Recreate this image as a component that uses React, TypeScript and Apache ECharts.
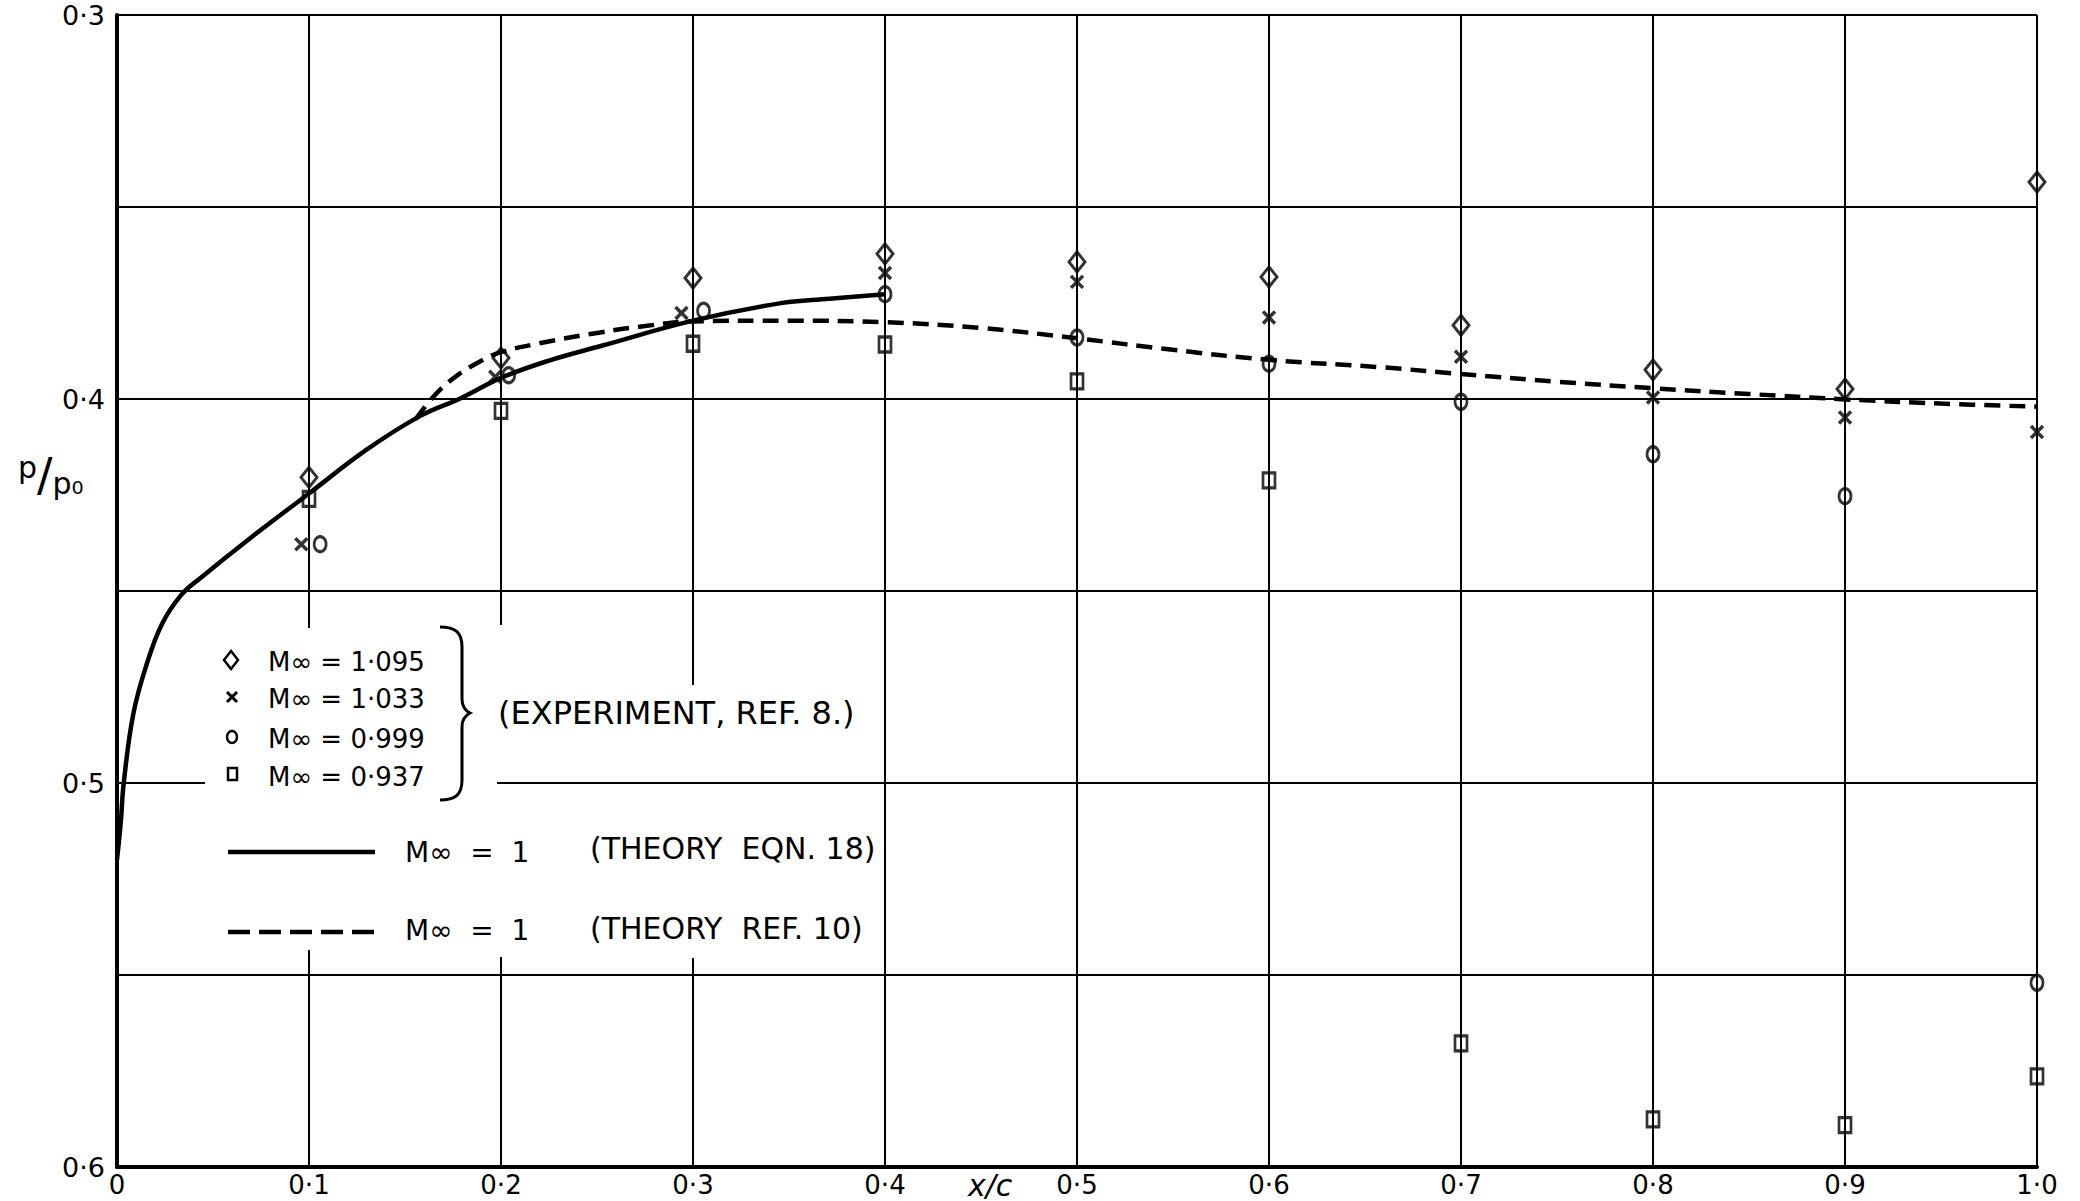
import React, { useEffect, useRef } from "react";
import * as echarts from "echarts";

// ---- Data (x/c, p/p0) ----
const diamondM1095: [number, number][] = [
  [0.1, 0.4204], [0.2, 0.3893], [0.3, 0.3685], [0.4, 0.3622], [0.5, 0.3643],
  [0.6, 0.3682], [0.7, 0.3808], [0.8, 0.3924], [0.9, 0.3974], [1.0, 0.3435],
];
const crossM1033: [number, number][] = [
  [0.096, 0.4378], [0.197, 0.3942], [0.294, 0.3776], [0.4, 0.3672], [0.5, 0.3695],
  [0.6, 0.3788], [0.7, 0.389], [0.8, 0.3996], [0.9, 0.4048], [1.0, 0.4086],
];
const circleM0999: [number, number][] = [
  [0.1058, 0.4378], [0.204, 0.3938], [0.3055, 0.377], [0.4, 0.3727], [0.5, 0.384],
  [0.6, 0.3908], [0.7, 0.4007], [0.8, 0.4144], [0.9, 0.4253], [1.0, 0.552],
];
const squareM0937: [number, number][] = [
  [0.1, 0.426], [0.2, 0.4031], [0.3, 0.3856], [0.4, 0.3858], [0.5, 0.3954],
  [0.6, 0.4212], [0.7, 0.5678], [0.8, 0.5876], [0.9, 0.5891], [1.0, 0.5764],
];
const theoryEqn18: [number, number][] = [
  [0, 0.52], [0.002, 0.51], [0.0035, 0.5], [0.0085, 0.482], [0.0155, 0.469],
  [0.0235, 0.4585], [0.0335, 0.451], [0.0435, 0.4466], [0.07, 0.436], [0.1, 0.4246],
  [0.13, 0.4132], [0.158, 0.4044], [0.179, 0.3998], [0.2, 0.3945], [0.225, 0.39],
  [0.252, 0.3862], [0.3, 0.3796], [0.345, 0.3751], [0.371, 0.3739], [0.4, 0.3727],
];
const theoryRef10: [number, number][] = [
  [0.1555, 0.4053], [0.165, 0.3993], [0.176, 0.3943], [0.19, 0.39], [0.2, 0.3878],
  [0.22, 0.3855], [0.25, 0.3828], [0.275, 0.381], [0.3, 0.3798], [0.35, 0.3796],
  [0.4, 0.38], [0.45, 0.3815], [0.5, 0.3842], [0.55, 0.3872], [0.6, 0.3898],
  [0.66, 0.3918], [0.7, 0.3935], [0.75, 0.3955], [0.8, 0.3972], [0.85, 0.3987],
  [0.9, 0.4001], [0.95, 0.4012], [1.0, 0.402],
];
const yTickLabels = ["0·3", "0·4", "0·5", "0·6"];
const legendExperiment = ["M∞ = 1·095", "M∞ = 1·033", "M∞ = 0·999", "M∞ = 0·937"];

const FONT = '"DejaVu Sans", "Liberation Sans", sans-serif';

export default function App() {
  const ref = useRef<HTMLDivElement>(null);
  useEffect(() => {
    const chart = echarts.init(ref.current!, null, { renderer: "svg" });
    chart.setOption({
      animation: false,
      backgroundColor: "#fff",
      grid: { left: 117, top: 15, width: 1920, height: 1152, containLabel: false },
      xAxis: {
        type: "value", min: 0, max: 1, interval: 0.1,
        axisLine: { show: true, onZero: false, lineStyle: { color: "#000", width: 4 } },
        axisTick: { show: false },
        splitLine: { show: true, lineStyle: { color: "#000", width: 2 } },
        axisLabel: {
          color: "#000", fontSize: 26, fontFamily: FONT, margin: 5,
          formatter: (v: number) => (v === 0 ? "0" : v.toFixed(1).replace(".", "·")),
        },
      },
      yAxis: {
        type: "value", inverse: true, min: 0.3, max: 0.6, interval: 0.05,
        axisLine: { show: true, onZero: false, lineStyle: { color: "#000", width: 4 } },
        axisTick: { show: false },
        splitLine: { show: true, lineStyle: { color: "#000", width: 2 } },
        axisLabel: {
          color: "#000", fontSize: 27, fontFamily: FONT, margin: 12,
          formatter: (v: number) => {
            const t = Math.round(v * 100);
            return t % 10 === 0 ? yTickLabels[(t - 30) / 10] : "";
          },
        },
      },
      series: [
        {
          name: "M∞ = 1·095", type: "scatter", data: diamondM1095, symbol: "diamond",
          symbolSize: [16, 20], z: 4,
          itemStyle: { color: "transparent", borderColor: "#000", borderWidth: 3 },
        },
        {
          name: "M∞ = 1·033", type: "scatter", data: crossM1033,
          symbol: "path://M0,0L10,10M10,0L0,10", symbolSize: 12, z: 4,
          itemStyle: { color: "none", borderColor: "#000", borderWidth: 3.5 },
        },
        {
          name: "M∞ = 0·999", type: "scatter", data: circleM0999, symbol: "circle",
          symbolSize: [12, 15], z: 4,
          itemStyle: { color: "transparent", borderColor: "#000", borderWidth: 3 },
        },
        {
          name: "M∞ = 0·937", type: "scatter", data: squareM0937, symbol: "rect",
          symbolSize: [12, 15], z: 4,
          itemStyle: { color: "transparent", borderColor: "#000", borderWidth: 3 },
        },
        {
          name: "Theory Eqn. 18", type: "line", data: theoryEqn18, showSymbol: false,
          symbol: "none", smooth: 0.4, z: 3,
          lineStyle: { color: "#000", width: 4.5 },
        },
        {
          name: "Theory Ref. 10", type: "line", data: theoryRef10, showSymbol: false,
          symbol: "none", smooth: 0.4, z: 3,
          lineStyle: { color: "#000", width: 4.5, type: [16, 9] },
        },
      ],
    });

    echarts.graphic.registerShape(
      "brace",
      echarts.graphic.extendPath(
        "M0,0 C15,0 22,5 22,20 L22,72 C22,80 26,84 30,86 C26,88 22,92 22,100 L22,153 C22,168 15,173 0,173",
        {}
      )
    );

    const txt = (text: string, x: number, y: number, size: number, extra: any = {}) => ({
      type: "text", x, y, z: 10,
      style: { text, fill: "#000", fontSize: size, fontFamily: FONT, verticalAlign: "middle", ...extra },
    });
    const symY = [660, 697, 737, 775];
    const white = { fill: "#fff" };
    // 0.5 gridline sits at y = 15 + 1152 * 2/3 = 783 (2px wide: 782..784)

    chart.setOption({
      graphic: [
        // white masks where the legend interrupts the grid
        { type: "rect", z: 1, shape: { x: 205, y: 628, width: 292, height: 322 }, style: white },
        { type: "rect", z: 1, shape: { x: 494, y: 625, width: 14, height: 157 }, style: white },
        { type: "rect", z: 1, shape: { x: 494, y: 784, width: 14, height: 173 }, style: white },
        { type: "rect", z: 1, shape: { x: 686, y: 685, width: 14, height: 97 }, style: white },
        { type: "rect", z: 1, shape: { x: 686, y: 784, width: 14, height: 174 }, style: white },
        // legend symbols
        { type: "polygon", z: 10, shape: { points: [[231, symY[0] - 9], [238, symY[0]], [231, symY[0] + 9], [224, symY[0]]] }, style: { fill: "none", stroke: "#000", lineWidth: 2.5 } },
        { type: "line", z: 10, shape: { x1: 227, y1: symY[1] - 5, x2: 237, y2: symY[1] + 5 }, style: { stroke: "#000", lineWidth: 3 } },
        { type: "line", z: 10, shape: { x1: 237, y1: symY[1] - 5, x2: 227, y2: symY[1] + 5 }, style: { stroke: "#000", lineWidth: 3 } },
        { type: "ellipse", z: 10, shape: { cx: 232, cy: symY[2], rx: 5, ry: 6 }, style: { fill: "none", stroke: "#000", lineWidth: 2.5 } },
        { type: "rect", z: 10, shape: { x: 228, y: symY[3] - 7, width: 9, height: 12 }, style: { fill: "none", stroke: "#000", lineWidth: 2.5 } },
        ...legendExperiment.map((t, i) => txt(t, 268, symY[i] + 2, 26)),
        { type: "brace", z: 10, x: 440, y: 627, style: { fill: "none", stroke: "#000", lineWidth: 3 } },
        txt("(EXPERIMENT, REF. 8.)", 498, 713, 32),
        // line legend
        { type: "line", z: 10, shape: { x1: 228, y1: 852, x2: 375, y2: 852 }, style: { stroke: "#000", lineWidth: 4.5 } },
        { type: "line", z: 10, shape: { x1: 228, y1: 932, x2: 375, y2: 932 }, style: { stroke: "#000", lineWidth: 4.5, lineDash: [22, 9] } },
        txt("M∞  =  1", 405, 852, 28),
        txt("M∞  =  1", 405, 930, 28),
        txt("(THEORY  EQN. 18)", 590, 848, 30),
        txt("(THEORY  REF. 10)", 590, 928, 30),
        // axis titles
        txt("x/c", 968, 1185, 30, { fontStyle: "italic" }),
        {
          type: "text", z: 10, x: 18, y: 475,
          style: {
            text: "{a|p}{b|/}{c|p₀}", fill: "#000", fontFamily: FONT, verticalAlign: "middle",
            rich: {
              a: { fontSize: 30, fontFamily: FONT, verticalAlign: "top", padding: [0, 0, 14, 0] },
              b: { fontSize: 46, fontFamily: FONT },
              c: { fontSize: 30, fontFamily: FONT, verticalAlign: "bottom", padding: [14, 0, 0, 0] },
            },
          },
        },
      ],
    });
    return () => chart.dispose();
  }, []);
  return (
    <div
      ref={ref}
      style={{ position: "absolute", left: 0, top: 0, width: 2080, height: 1201, background: "#fff" }}
    />
  );
}
